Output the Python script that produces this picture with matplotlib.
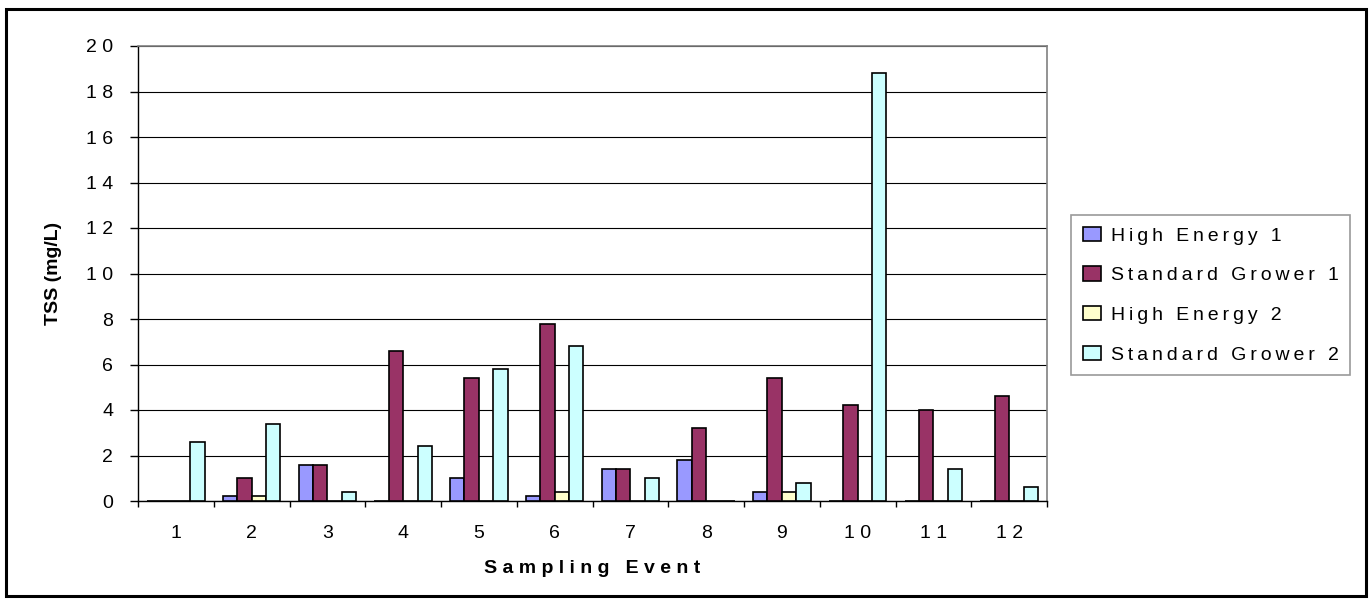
import matplotlib

matplotlib.use("Agg")
import matplotlib.pyplot as plt
import numpy as np
from matplotlib.patches import Rectangle
from matplotlib.ticker import FixedLocator, MultipleLocator

plt.rcParams["font.family"] = ["Liberation Sans", "DejaVu Sans"]

# TSS per sampling event, mg/L
events = [str(i) for i in range(1, 13)]
series_names = ["High Energy 1", "Standard Grower 1", "High Energy 2", "Standard Grower 2"]
high_energy_1 = [0, 0.2, 1.6, 0, 1.0, 0.2, 1.4, 1.8, 0.4, 0, 0, 0]
standard_grower_1 = [0, 1.0, 1.6, 6.6, 5.4, 7.8, 1.4, 3.2, 5.4, 4.2, 4.0, 4.6]
high_energy_2 = [0, 0.2, 0, 0, 0, 0.4, 0, 0, 0.4, 0, 0, 0]
standard_grower_2 = [2.6, 3.4, 0.4, 2.4, 5.8, 6.8, 1.0, 0, 0.8, 18.8, 1.4, 0.6]
y_ticks = list(range(0, 21, 2))

colors = ["#9999FF", "#993366", "#FFFFCC", "#CCFFFF"]


def spaced(s, sep=" "):
    # wide letter spacing, like the spreadsheet export
    return sep.join(s)


W, H = 1372, 603
fig = plt.figure(figsize=(W / 100, H / 100), dpi=100)
ax = fig.add_axes([138 / W, 1 - 501 / H, (1047 - 138) / W, (501 - 46) / H])

x = np.arange(1, len(events) + 1)
bw = 0.19
all_series = [high_energy_1, standard_grower_1, high_energy_2, standard_grower_2]
for k, (vals, name, c) in enumerate(zip(all_series, series_names, colors)):
    ax.bar(x + (k - 1.5) * bw, vals, width=bw, color=c, edgecolor="black",
           linewidth=1.2, label=spaced(name, "\u2009"), zorder=3)

ax.set_xlim(0.5, len(events) + 0.5)
ax.set_ylim(0, 20)

ax.yaxis.set_major_locator(FixedLocator(y_ticks))
ax.set_yticklabels([spaced(str(t)) for t in y_ticks], fontsize=14)
ax.tick_params(axis="y", direction="out", length=5.8, width=1, pad=12, color="black")
ax.yaxis.grid(True, color="black", linewidth=0.8)
ax.set_axisbelow(True)

ax.xaxis.set_major_locator(FixedLocator(x))
ax.set_xticklabels([spaced(e) for e in events], fontsize=14)
ax.xaxis.set_minor_locator(MultipleLocator(1, offset=0.5))
ax.tick_params(axis="x", which="major", length=0, pad=17)
ax.tick_params(axis="x", which="minor", direction="out", length=4.3, width=1, color="black")

for side in ["top", "right"]:
    ax.spines[side].set_color("#808080")
    ax.spines[side].set_linewidth(1.2)
for side in ["left", "bottom"]:
    ax.spines[side].set_color("black")
    ax.spines[side].set_linewidth(1.0)

ax.set_xlabel(spaced("Sampling Event"), fontsize=14, fontweight="bold")
ax.xaxis.set_label_coords(0.5, -0.13)
ax.set_ylabel("TSS (mg/L)", fontsize=14, fontweight="bold")
ax.yaxis.set_label_coords(-0.084, 0.5)

leg = ax.legend(loc="upper left", bbox_to_anchor=(1071 / W, 1 - 215 / H),
                bbox_transform=fig.transFigure, fontsize=14, frameon=True,
                fancybox=False, shadow=False, borderaxespad=0, borderpad=0.6,
                handlelength=0.95, handleheight=0.75, handletextpad=0.5,
                labelspacing=1.12)
leg.get_frame().set_edgecolor("#808080")
leg.get_frame().set_linewidth(1.2)

# outer chart border
fig.patches.append(Rectangle((6 / W, 1 - 596 / H), (1366 - 6) / W, (596 - 9) / H,
                             transform=fig.transFigure, fill=False,
                             edgecolor="black", linewidth=2.2))

fig.savefig("out.png", dpi=100, facecolor="white")
